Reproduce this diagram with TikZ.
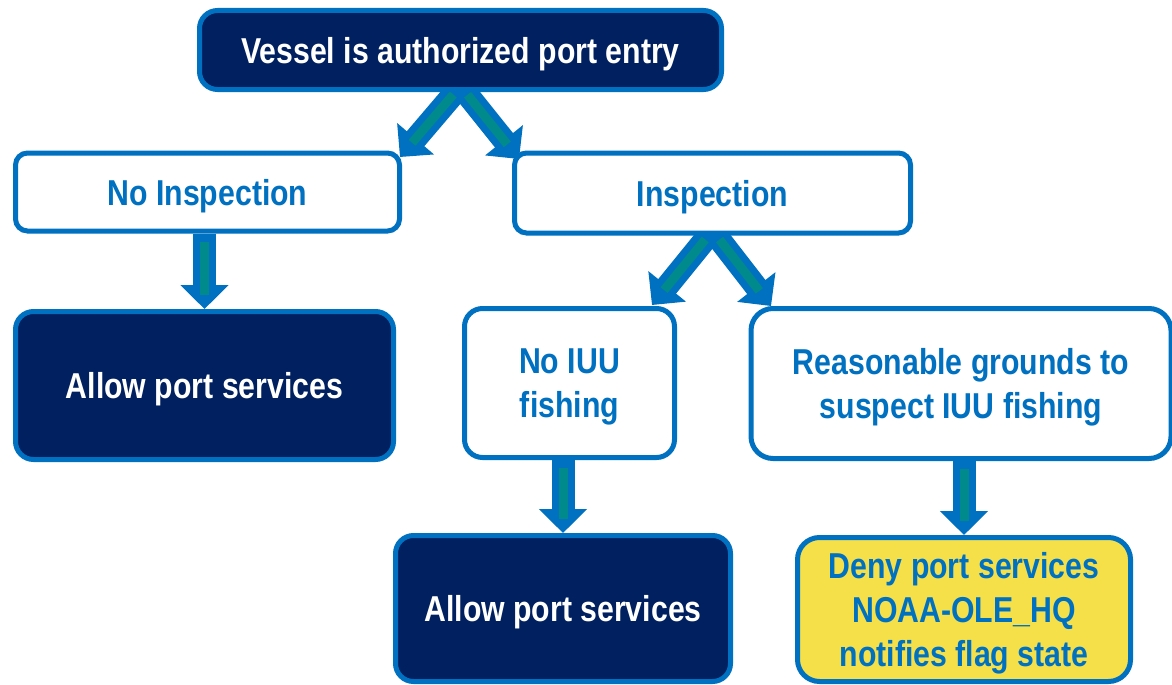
\documentclass[tikz,border=0pt]{standalone}
\usepackage{fontspec}
\setmainfont{Liberation Sans}[FakeStretch=0.84]
\usetikzlibrary{arrows.meta,calc}
\pgfdeclarelayer{bg}
\pgfsetlayers{bg,main}
\definecolor{navy}{HTML}{012060}
\definecolor{bblue}{HTML}{0070C0}
\definecolor{teal2}{HTML}{008A8C}
\definecolor{yel}{HTML}{F5E04A}
\tikzset{
  box/.style={draw=bblue, line width=5pt, rounded corners=18pt, align=center,
    inner sep=0pt, text depth=-4.5pt, font=\fontsize{36}{44}\selectfont\bfseries},
  darkbox/.style={box, fill=navy, text=white},
  lightbox/.style={box, fill=white, text=bblue},
  yelbox/.style={box, fill=yel, text=bblue},
  arrowout/.style={draw=bblue, line width=23pt, -{Triangle[width=47pt,length=24pt]}},
  arrowin/.style={draw=teal2, line width=9pt},
}
\begin{document}
\begin{tikzpicture}[x=1pt,y=-1pt]
\useasboundingbox (0,0) rectangle (1172,685);
\node[darkbox, minimum width=522pt, minimum height=79pt] (top) at (460.5,50) {Vessel is authorized port entry};
\node[lightbox, minimum width=384pt, minimum height=78pt, rounded corners=12pt] (noinsp) at (207.5,192) {No Inspection};
\node[lightbox, minimum width=396pt, minimum height=80pt, rounded corners=12pt] (insp) at (712.5,193) {Inspection};
\node[darkbox, minimum width=378pt, minimum height=148pt] (allow1) at (204.5,385.5) {Allow port services};
\node[lightbox, minimum width=210pt, minimum height=149pt] (noiuu) at (569.5,383) {No IUU\\fishing};
\node[lightbox, minimum width=420pt, minimum height=150pt, rounded corners=22pt] (reason) at (961,383.5) {Reasonable grounds to\\suspect IUU fishing};
\node[darkbox, minimum width=335pt, minimum height=146pt] (allow2) at (563,608.5) {Allow port services};
\node[yelbox, minimum width=333pt, minimum height=144pt, rounded corners=22pt] (deny) at (964,609.5) {Deny port services\\NOAA-OLE\_HQ\\notifies flag state};
% connector anchor points
\coordinate (t1) at ($(top.south)+(0,-6)$);
\coordinate (l1) at (400,157);
\coordinate (r1) at (519,159);
\coordinate (t2) at ($(insp.south)+(0,-5)$);
\coordinate (l2) at (652,305);
\coordinate (r2) at (771,306);
\begin{pgfonlayer}{bg}
\fill[white] (0,0) rectangle (1172,685);
\draw[arrowout] (t1) -- (l1);
\draw[arrowout] (t1) -- (r1);
\draw[arrowout] (t2) -- (l2);
\draw[arrowout] (t2) -- (r2);
\draw[arrowout] (noinsp.south -| allow1.north) -- (allow1.north);
\draw[arrowout] (noiuu.south -| allow2.north) -- (allow2.north);
\draw[arrowout] (reason.south -| deny.north) -- (deny.north);
\draw[arrowin] ($(t1)!0.12!(l1)$) -- ($(t1)!0.8!(l1)$);
\draw[arrowin] ($(t1)!0.12!(r1)$) -- ($(t1)!0.8!(r1)$);
\draw[arrowin] ($(t2)!0.12!(l2)$) -- ($(t2)!0.8!(l2)$);
\draw[arrowin] ($(t2)!0.12!(r2)$) -- ($(t2)!0.8!(r2)$);
\draw[arrowin] ($(noinsp.south -| allow1.north)+(0,8)$) -- ($(allow1.north)+(0,-14)$);
\draw[arrowin] ($(noiuu.south -| allow2.north)+(0,8)$) -- ($(allow2.north)+(0,-14)$);
\draw[arrowin] ($(reason.south -| deny.north)+(0,8)$) -- ($(deny.north)+(0,-14)$);
\end{pgfonlayer}
\end{tikzpicture}
\end{document}
